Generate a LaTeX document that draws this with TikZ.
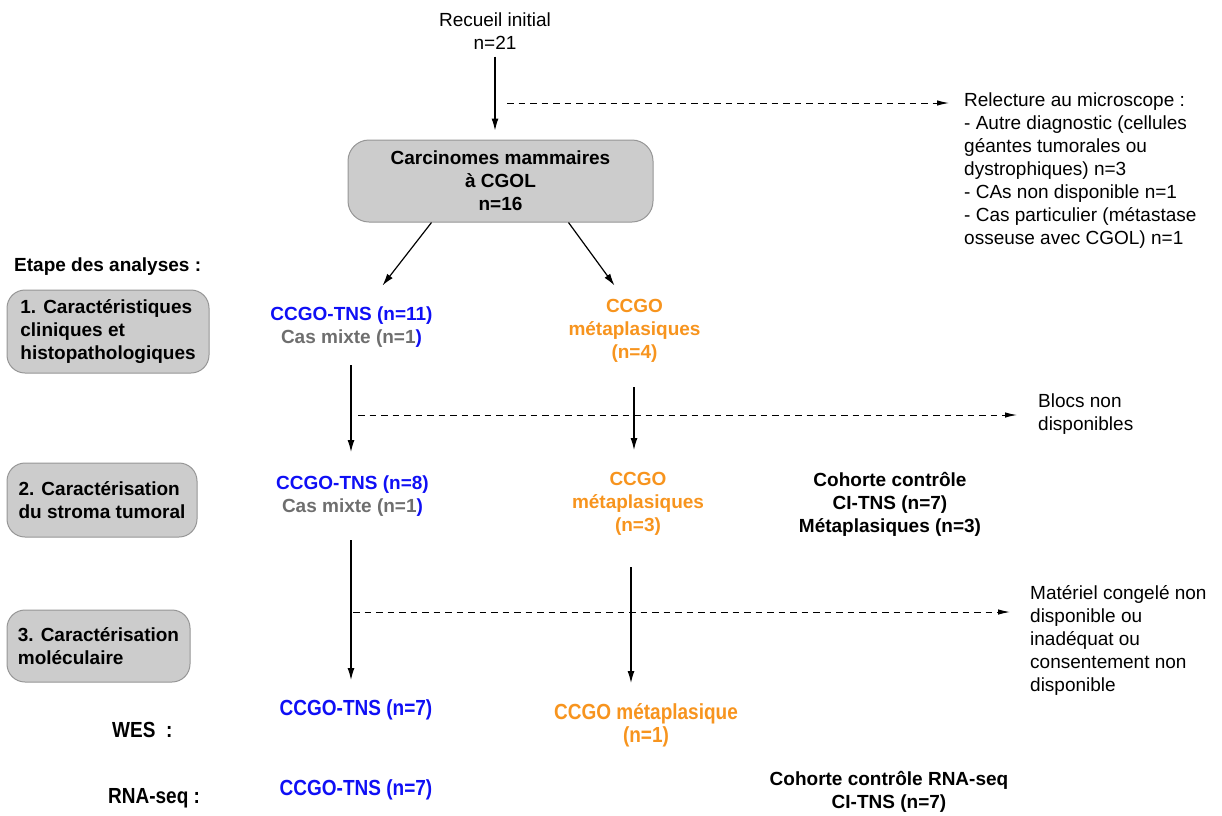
\documentclass[tikz,border=0pt]{standalone}
\usepackage{fontspec}
\setmainfont{Liberation Sans}
\usetikzlibrary{arrows.meta}
\definecolor{cblue}{RGB}{15,15,245}
\definecolor{corange}{RGB}{247,148,30}
\definecolor{cgray}{RGB}{110,110,110}
\definecolor{boxfill}{RGB}{204,204,204}
\definecolor{boxline}{RGB}{150,150,150}
\newcommand{\tall}[1]{\scalebox{1}[1.15]{#1}}
\begin{document}
\begin{tikzpicture}[x=1pt,y=1pt,
  every node/.style={font=\fontsize{19}{23}\selectfont, inner sep=0pt},
  stage/.style={draw=boxline, fill=boxfill, line width=1pt, rounded corners=18pt,
    align=left, font=\fontsize{19}{23}\selectfont\bfseries},
  plain/.style={align=center},
  boldtxt/.style={align=center, font=\fontsize{19}{23}\selectfont\bfseries},
  bluetxt/.style={boldtxt, text=cblue},
  orangetxt/.style={boldtxt, text=corange},
  arr/.style={line width=1.2pt, -{Latex[length=12pt,width=7pt]}},
  darr/.style={line width=1pt, dash pattern=on 6.5pt off 5pt, -{Latex[length=12pt,width=5.5pt]}},
]
\useasboundingbox (0,0) rectangle (1222,-815);

% top
\node[plain] (rec) at (495,-31) {Recueil initial\\n=21};
\node[stage, align=center, minimum width=305pt, minimum height=82pt, rounded corners=21pt] (carc) at (500.5,-181) {Carcinomes mammaires\\à CGOL\\n=16};
\node[anchor=west, align=left] (relec) at (964,-171) {Relecture au microscope :\\- Autre diagnostic (cellules\\géantes tumorales ou\\dystrophiques) n=3\\- CAs non disponible n=1\\- Cas particulier (métastase\\osseuse avec CGOL) n=1};

% stages
\node[anchor=west, font=\fontsize{19}{23}\selectfont\bfseries] (etape) at (14,-267) {Etape des analyses :};
\node[stage, minimum width=202pt, minimum height=83pt] (s1) at (108,-331.5) {1. Caractéristiques\\cliniques et\\histopathologiques};
\node[stage, minimum width=190pt, minimum height=74pt] (s2) at (102,-500) {2. Caractérisation\\du stroma tumoral};
\node[stage, minimum width=183pt, minimum height=72pt] (s3) at (98.5,-646) {3. Caractérisation\\moléculaire};

% level 1
\node[bluetxt] (tns1) at (351.5,-327) {CCGO-TNS (n=11)\\\textcolor{cgray}{Cas mixte (n=1}\textcolor{cblue}{)}};
\node[orangetxt] (meta1) at (634.5,-331) {CCGO\\métaplasiques\\(n=4)};
\node[anchor=west, align=left] (blocs) at (1038,-414) {Blocs non\\disponibles};

% level 2
\node[bluetxt] (tns2) at (352.5,-496) {CCGO-TNS (n=8)\\\textcolor{cgray}{Cas mixte (n=1}\textcolor{cblue}{)}};
\node[orangetxt] (meta2) at (638,-504) {CCGO\\métaplasiques\\(n=3)};
\node[boldtxt] (coh) at (890,-504) {Cohorte contrôle\\CI-TNS (n=7)\\Métaplasiques (n=3)};
\node[anchor=west, align=left] (mat) at (1030,-640) {Matériel congelé non\\disponible ou\\inadéquat ou\\consentement non\\disponible};

% level 3
\node[anchor=west, font=\fontsize{19}{23}\selectfont\bfseries] (wes) at (112,-730) {\tall{WES~~:}};
\node[bluetxt] (tns3) at (356,-710) {\tall{CCGO-TNS (n=7)}};
\node[orangetxt] (meta3) at (646,-725) {\tall{CCGO métaplasique}\\\tall{(n=1)}};
\node[anchor=west, font=\fontsize{19}{23}\selectfont\bfseries] (rna) at (108,-798) {\tall{RNA-seq :}};
\node[bluetxt] (tns4) at (356,-790) {\tall{CCGO-TNS (n=7)}};
\node[boldtxt] (coh2) at (889,-792) {Cohorte contrôle RNA-seq\\CI-TNS (n=7)};

% solid arrows
\draw[arr, shorten <=7pt, shorten >=9pt] (rec.south) -- (rec.south |- carc.north);
\draw[arr] ([xshift=-69pt]carc.south) -- ([xshift=-118pt,yshift=-63pt]carc.south);
\draw[arr] ([xshift=68pt]carc.south) -- ([xshift=114pt,yshift=-63pt]carc.south);
\coordinate (x1) at (351,0);
\coordinate (x2) at (634,0);
\coordinate (x3) at (631,0);
\draw[arr] (x1 |- 0,-365) -- (x1 |- 0,-452);
\draw[arr] (x2 |- 0,-387) -- (x2 |- 0,-450);
\draw[arr] (x1 |- 0,-540) -- (x1 |- 0,-680);
\draw[arr] (x3 |- 0,-567) -- (x3 |- 0,-683);

% dashed arrows
\coordinate (d1) at (507,-103);
\coordinate (d2) at (358,-415);
\coordinate (d3) at (353,-612);
\draw[darr, shorten >=15pt] (d1) -- (relec.west |- d1);
\draw[darr, shorten >=21pt] (d2) -- (blocs.west |- d2);
\draw[darr, shorten >=20pt] (d3) -- (mat.west |- d3);
\end{tikzpicture}
\end{document}
